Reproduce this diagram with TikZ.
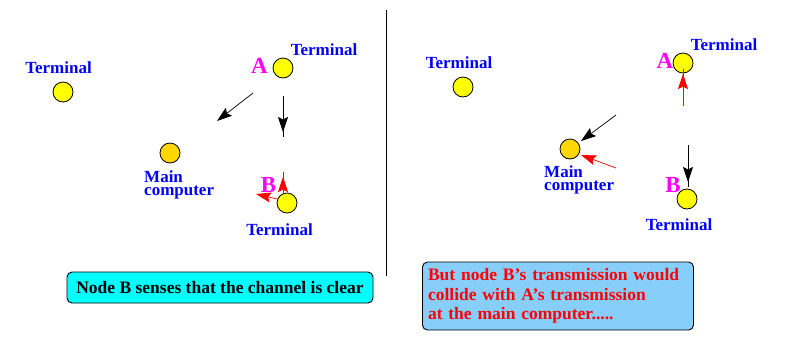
\documentclass[tikz,border=0pt]{standalone}
\usepackage{fontspec}
\setmainfont{Liberation Serif}
\usetikzlibrary{arrows.meta}
\definecolor{termfill}{RGB}{255,255,0}
\definecolor{mainfill}{RGB}{255,215,0}
\definecolor{lblblue}{RGB}{0,0,255}
\definecolor{magentaA}{RGB}{255,0,255}
\definecolor{boxcyan}{RGB}{0,255,255}
\definecolor{boxblue}{RGB}{135,206,250}
\begin{document}
\begin{tikzpicture}[x=1pt,y=-1pt,
  term/.style={circle,draw=black,fill=termfill,line width=0.8pt,minimum size=20pt,inner sep=0pt},
  maincomp/.style={circle,draw=black,fill=mainfill,line width=0.8pt,minimum size=20pt,inner sep=0pt},
  lbl/.style={text=lblblue,font=\bfseries\fontsize{17}{14}\selectfont,inner sep=0pt},
  letter/.style={text=magentaA,font=\bfseries\fontsize{23}{23}\selectfont,inner sep=0pt},
  sig/.style={line width=0.7pt,-{Stealth[length=15pt,width=10pt,inset=2.5pt]}},
  plain/.style={line width=0.7pt},
  note/.style={draw=black,line width=0.9pt,rounded corners=5pt,font=\bfseries\fontsize{17.5}{19.5}\selectfont}
]
\useasboundingbox (0,0) rectangle (789,349);
% ---------- left panel ----------
\node[term] (LT) at (63,92) {};
\node[lbl] (LTl) at (58.5,68) {Terminal};
\node[term] (LA) at (283,68) {};
\node[lbl] (LAl) at (324,50) {Terminal};
\node[letter] (LAL) at (259.5,66) {A};
\node[maincomp] (LM) at (170,153) {};
\node[lbl,anchor=base west] (LMl1) at (144,182) {Main};
\node[lbl,anchor=base west] (LMl2) at (144,195.5) {computer};
\node[term] (LB) at (287,203) {};
\node[letter] (LBL) at (268.5,185) {B};
\node[lbl] (LBl) at (279.5,230) {Terminal};
% arrows
\coordinate (la1) at (253,93); \coordinate (la2) at (217,121);
\draw[sig] (la1) -- (la2);
\coordinate (lb1) at (283,96); \coordinate (lb2) at (283,132); \coordinate (lb3) at (283,137);
\draw[plain] (lb1) -- (lb3);
\draw[sig] (lb1) -- (lb2);
\coordinate (lc1) at (283,193); \coordinate (lc2) at (283,177); \coordinate (lc3) at (283,172);
\draw[plain,red] (lc1) -- (lc3);
\draw[sig,red] (lc1) -- (lc2);
\coordinate (ld1) at (277,199); \coordinate (ld2) at (256,194);
\draw[sig,red] (ld1) -- (ld2);
% divider
\coordinate (dv1) at (386.5,10); \coordinate (dv2) at (386.5,276);
\draw[line width=1.3pt] (dv1) -- (dv2);
% left note
\node[note,fill=boxcyan,minimum width=306pt,minimum height=31pt,inner sep=0pt] (LN) at (220,287.5) {Node B senses that the channel is clear};
% ---------- right panel ----------
\node[term] (RT) at (463,87) {};
\node[lbl] (RTl) at (459,63) {Terminal};
\node[term] (RA) at (683,63) {};
\node[lbl] (RAl) at (724,45) {Terminal};
\node[letter] (RAL) at (665,61) {A};
\node[maincomp] (RM) at (570,149) {};
\node[lbl,anchor=base west] (RMl1) at (544,177) {Main};
\node[lbl,anchor=base west] (RMl2) at (544,190.5) {computer};
\node[term] (RB) at (687,199) {};
\node[letter] (RBL) at (673,185) {B};
\node[lbl] (RBl) at (679,225) {Terminal};
% arrows
\coordinate (ra1) at (683,106); \coordinate (ra2) at (683,74); \coordinate (ra3) at (683,69);
\draw[plain,red] (ra1) -- (ra3);
\draw[sig,red] (ra1) -- (ra2);
\coordinate (rb1) at (616,115); \coordinate (rb2) at (581,141);
\draw[sig] (rb1) -- (rb2);
\coordinate (rc1) at (616,168); \coordinate (rc2) at (581,155);
\draw[sig,red] (rc1) -- (rc2);
\coordinate (rd1) at (688,145); \coordinate (rd2) at (688,182); \coordinate (rd3) at (688,187);
\draw[plain] (rd1) -- (rd3);
\draw[sig] (rd1) -- (rd2);
% right note
\node[note,fill=boxblue,minimum width=271pt,minimum height=68pt,text width=260pt,align=left,inner sep=0pt,text=red] (RN) at (558,296) {But node B’s transmission would\\collide with A’s transmission\\at the main computer.....};
\end{tikzpicture}
\end{document}
